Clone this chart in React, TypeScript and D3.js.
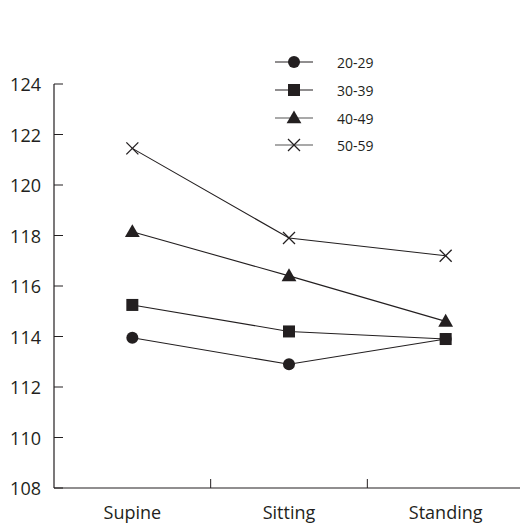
import React from "react";
import * as d3 from "d3";

const categories = ["Supine", "Sitting", "Standing"];
const seriesNames = ["20-29", "30-39", "40-49", "50-59"];
const seriesShapes = ["circle", "square", "triangle", "cross"];
const values2029 = [113.95, 112.9, 113.9];
const values3039 = [115.25, 114.2, 113.9];
const values4049 = [118.15, 116.4, 114.6];
const values5059 = [121.45, 117.9, 117.2];
const yTicks = [108, 110, 112, 114, 116, 118, 120, 122, 124];

const allValues = [values2029, values3039, values4049, values5059];

const W = 520;
const H = 525;
const left = 54;
const right = 524;
const top = 84;
const bottom = 488;
const font = "'Open Sans', 'Noto Sans', sans-serif";
const ink = "#231f20";

function Marker({ shape, x, y }: { shape: string; x: number; y: number }) {
  if (shape === "circle") return <circle cx={x} cy={y} r={6} fill={ink} />;
  if (shape === "square") return <rect x={x - 6} y={y - 6} width={12} height={12} fill={ink} />;
  if (shape === "triangle") {
    const p = d3.symbol(d3.symbolTriangle, 95)();
    return <path d={p || ""} transform={`translate(${x},${y + 1})`} fill={ink} />;
  }
  const s = 6;
  return (
    <g stroke={ink} strokeWidth={1.3}>
      <line x1={x - s} y1={y - s} x2={x + s} y2={y + s} />
      <line x1={x - s} y1={y + s} x2={x + s} y2={y - s} />
    </g>
  );
}

export default function App() {
  const x = d3.scaleBand<string>().domain(categories).range([left, right]).padding(0);
  const y = d3.scaleLinear().domain([108, 124]).range([bottom, top]);
  const line = d3
    .line<number>()
    .x((_, i) => (x(categories[i]) as number) + x.bandwidth() / 2)
    .y((d) => y(d));

  const legendX0 = 275;
  const legendX1 = 313;
  const legendY = [62, 90, 118, 145];

  return (
    <svg
      width={W}
      height={H}
      style={{ position: "absolute", left: 0, top: 0, background: "#fff" }}
      fontFamily={font}
    >
      <rect width={W} height={H} fill="#fff" />
      <line x1={left} y1={top} x2={left} y2={bottom} stroke={ink} strokeWidth={1.2} />
      <line x1={left} y1={bottom} x2={right} y2={bottom} stroke={ink} strokeWidth={1.2} />
      {yTicks.map((t) => (
        <g key={t}>
          <line x1={left} x2={left + 9} y1={y(t)} y2={y(t)} stroke={ink} strokeWidth={1} />
          <text x={41} y={y(t)} textAnchor="end" dominantBaseline="central" fontSize={18} fill={ink}>
            {t}
          </text>
        </g>
      ))}
      {categories.slice(1).map((c) => (
        <line
          key={c}
          x1={x(c) as number}
          x2={x(c) as number}
          y1={bottom}
          y2={bottom - 9}
          stroke={ink}
          strokeWidth={1}
        />
      ))}
      {categories.map((c) => (
        <text
          key={c}
          x={(x(c) as number) + x.bandwidth() / 2}
          y={519}
          textAnchor="middle"
          fontSize={18}
          fill={ink}
        >
          {c}
        </text>
      ))}
      {allValues.map((vals, si) => (
        <g key={si}>
          <path d={line(vals) || ""} fill="none" stroke={ink} strokeWidth={1.1} />
          {vals.map((v, i) => (
            <Marker
              key={i}
              shape={seriesShapes[si]}
              x={(x(categories[i]) as number) + x.bandwidth() / 2}
              y={y(v)}
            />
          ))}
        </g>
      ))}
      {seriesNames.map((n, i) => (
        <g key={n}>
          <line
            x1={legendX0}
            x2={legendX1}
            y1={legendY[i]}
            y2={legendY[i]}
            stroke={i >= 2 ? "#555" : ink}
            strokeWidth={1.2}
          />
          <Marker shape={seriesShapes[i]} x={(legendX0 + legendX1) / 2} y={legendY[i]} />
          <text x={337} y={legendY[i]} dominantBaseline="central" fontSize={14} fill={ink}>
            {n}
          </text>
        </g>
      ))}
    </svg>
  );
}
